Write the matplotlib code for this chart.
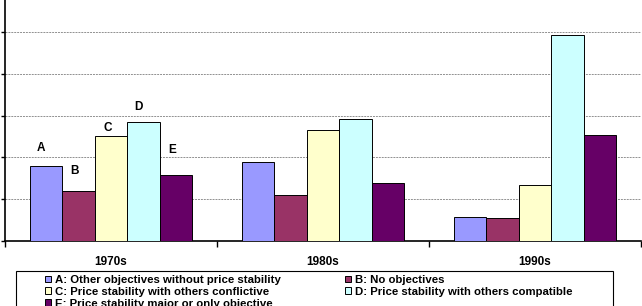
import numpy as np
import matplotlib
matplotlib.use('Agg')
import matplotlib.pyplot as plt
from matplotlib.patches import Patch, Rectangle

decades = ['1970s', '1980s', '1990s']
series = ['A: Other objectives without price stability',
          'B: No objectives',
          'C: Price stability with others conflictive',
          'D: Price stability with others compatible',
          'E: Price stability major or only objective']
letters = ['A', 'B', 'C', 'D', 'E']
a_vals = [1.79, 1.89, 0.57]
b_vals = [1.19, 1.10, 0.54]
c_vals = [2.52, 2.66, 1.33]
d_vals = [2.86, 2.92, 4.94]
e_vals = [1.57, 1.39, 2.54]
colors = ['#9999FF', '#993366', '#FFFFCC', '#CCFFFF', '#660066']

# label offsets (pixels) for the letters over the 1970s bars
lab_dx = [-5, -4, -3, -5, -4]
lab_dy = [18, 20, 8, 15, 25]

plt.rcParams['font.family'] = ['Liberation Sans', 'DejaVu Sans']
plt.rcParams['font.weight'] = 'bold'

fig = plt.figure(figsize=(6.42, 3.06), dpi=100)
ax = fig.add_axes([5/642, 1-241/306, 636/642, 241/306])

x = np.arange(len(decades))
w = 0.153
vals = [a_vals, b_vals, c_vals, d_vals, e_vals]
for i, v in enumerate(vals):
    b = ax.bar(x + (i-2)*w, v, w, color=colors[i], edgecolor='black', linewidth=0.7, zorder=3)
    r = b[0]
    ax.annotate(letters[i], (r.get_x()+r.get_width()/2, r.get_height()),
                xytext=(lab_dx[i]*0.72, lab_dy[i]*0.72), textcoords='offset points',
                ha='center', va='center', fontsize=8.5, fontweight='bold')

ax.set_xlim(-0.5, 2.5)
ax.set_ylim(0, 5.77)
ax.set_yticks(np.arange(0, 6, 1))
ax.set_yticklabels([])
ax.tick_params(axis='y', length=3, width=1)
ax.yaxis.grid(True, color='#909090', linestyle=(0, (2, 1)), linewidth=0.7, zorder=0)
ax.set_xticks(x)
ax.set_xticklabels(decades, fontsize=8.5, fontweight='bold')
ax.set_xticks([-0.5, 0.5, 1.5, 2.5], minor=True)
ax.tick_params(axis='x', which='major', length=0, pad=11)
ax.tick_params(axis='x', which='minor', length=4, width=1)
for s in ['top', 'right']:
    ax.spines[s].set_visible(False)
for s in ['left', 'bottom']:
    ax.spines[s].set_linewidth(1.2)

# legend frame (runs off the bottom of the figure)
fig.patches.append(Rectangle((16/642, -0.1), (613-16)/642, 1-271/306+0.1,
                             transform=fig.transFigure, facecolor='white',
                             edgecolor='black', linewidth=0.8))

order = [0, 2, 4, 1, 3]
handles = [Patch(facecolor=colors[i], edgecolor='black', linewidth=0.7) for i in order]
leg = fig.legend(handles, [series[i] for i in order], ncol=2, loc='upper left',
                 bbox_to_anchor=(45/642, 1-275/306), fontsize=8.2, frameon=False,
                 handlelength=0.55, handleheight=0.55,
                 handletextpad=0.35, columnspacing=5.6, labelspacing=0.17,
                 borderpad=0, borderaxespad=0)

fig.savefig('out.png', dpi=100)
